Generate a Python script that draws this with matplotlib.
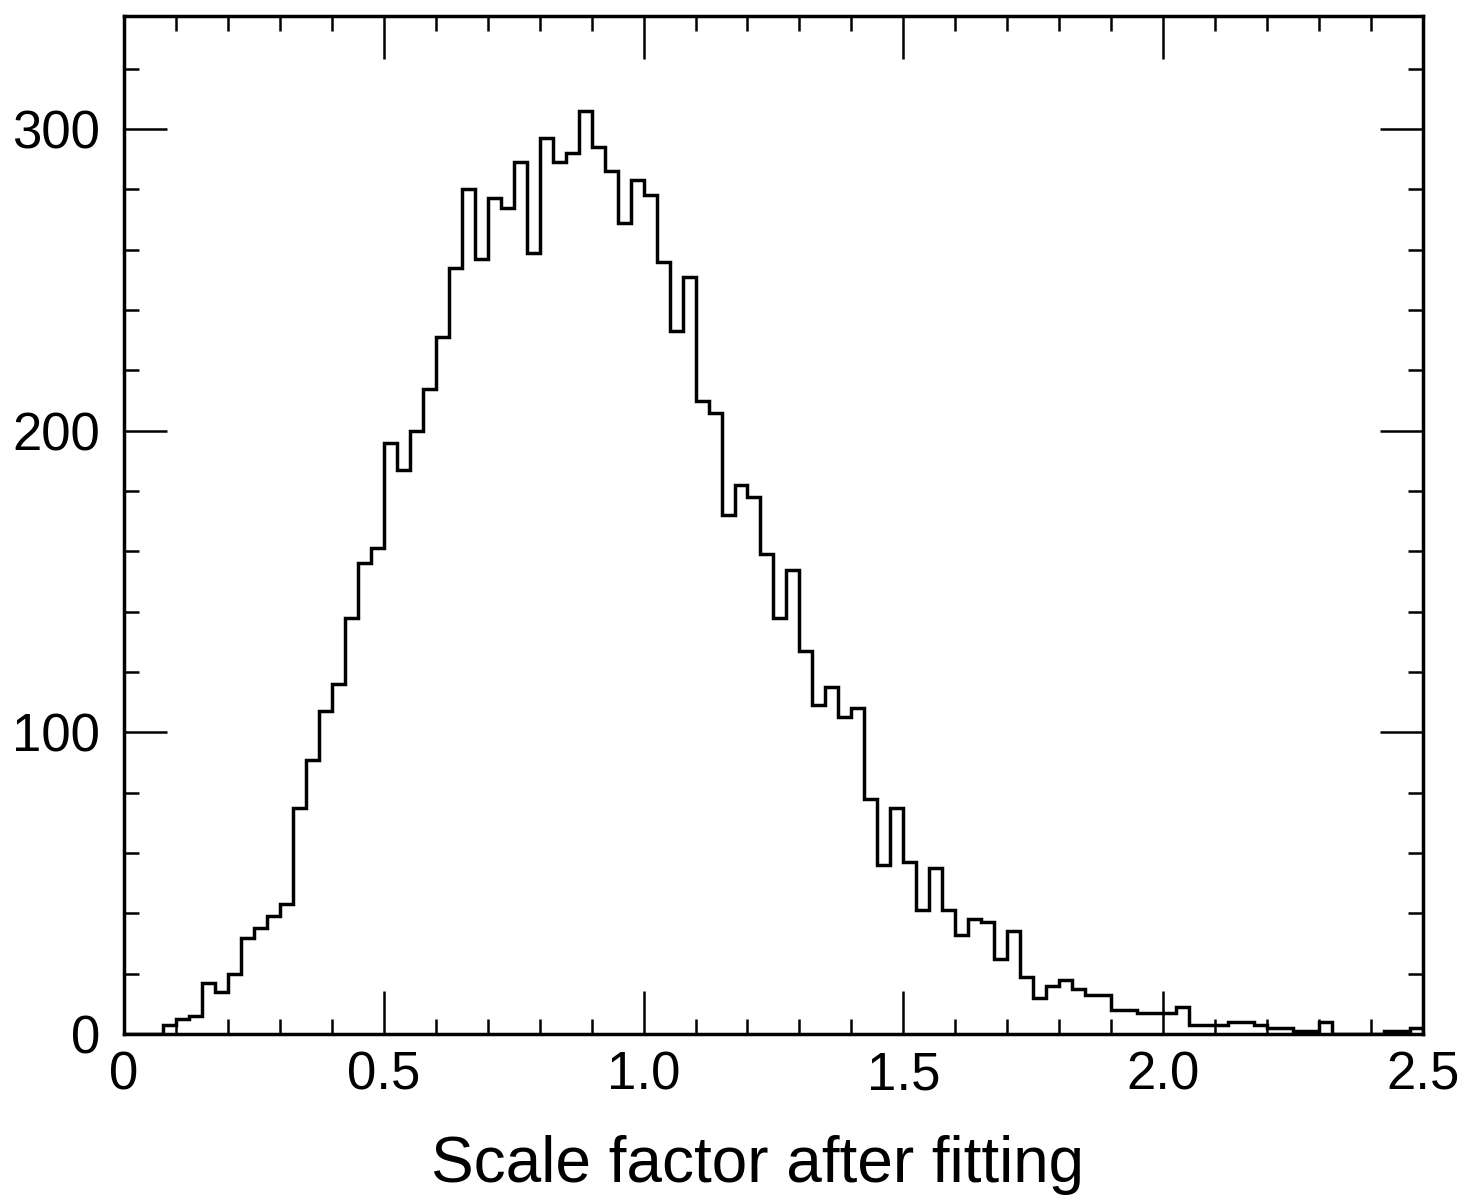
import numpy as np
import matplotlib
matplotlib.use("Agg")
import matplotlib.pyplot as plt
from matplotlib.ticker import MultipleLocator, FixedLocator, FixedFormatter

plt.rcParams['font.family'] = ['Liberation Sans', 'DejaVu Sans']

# histogram of scale factors, bins of 0.025 from 0 to 2.5
bin_edges = np.linspace(0.0, 2.5, 101)
counts = [
    0, 0, 0, 3, 5, 6, 17, 14, 20, 32,
    35, 39, 43, 75, 91, 107, 116, 138, 156, 161,
    196, 187, 200, 214, 231, 254, 280, 257, 277, 274,
    289, 259, 297, 289, 292, 306, 294, 286, 269, 283,
    278, 256, 233, 251, 210, 206, 172, 182, 178, 159,
    138, 154, 127, 109, 115, 105, 108, 78, 56, 75,
    57, 41, 55, 41, 33, 38, 37, 25, 34, 19,
    12, 16, 18, 15, 13, 13, 8, 8, 7, 7,
    7, 9, 3, 3, 3, 4, 4, 3, 2, 2,
    1, 1, 4, 0, 0, 0, 0, 1, 1, 2,
]
x_ticks = [0, 0.5, 1.0, 1.5, 2.0, 2.5]
x_labels = ['0', '0.5', '1.0', '1.5', '2.0', '2.5']
y_ticks = [0, 100, 200, 300]
x_label = 'Scale factor after fitting'

fig = plt.figure(figsize=(14.67, 12.01), dpi=100)
ax = fig.add_axes([0.0845, 0.139, 0.8855, 0.8477])

ax.stairs(counts, bin_edges, color='black', linewidth=2.5)

ax.set_xlim(0, 2.5)
ax.set_ylim(0, 337.5)

ax.xaxis.set_major_locator(FixedLocator(x_ticks))
ax.xaxis.set_major_formatter(FixedFormatter(x_labels))
ax.xaxis.set_minor_locator(MultipleLocator(0.1))
ax.yaxis.set_major_locator(FixedLocator(y_ticks))
ax.yaxis.set_minor_locator(MultipleLocator(20))

ax.tick_params(which='both', direction='in', top=True, right=True, width=1.8, color='black')
ax.tick_params(which='major', length=31)
ax.tick_params(which='minor', length=11)
ax.tick_params(axis='x', which='major', labelsize=38, pad=12)
ax.tick_params(axis='y', which='major', labelsize=38, pad=17)

for sp in ax.spines.values():
    sp.set_linewidth(2.5)

ax.set_xlabel(x_label, fontsize=46)
ax.xaxis.set_label_coords(0.488, -0.099)

fig.savefig('out.png', dpi=100)
